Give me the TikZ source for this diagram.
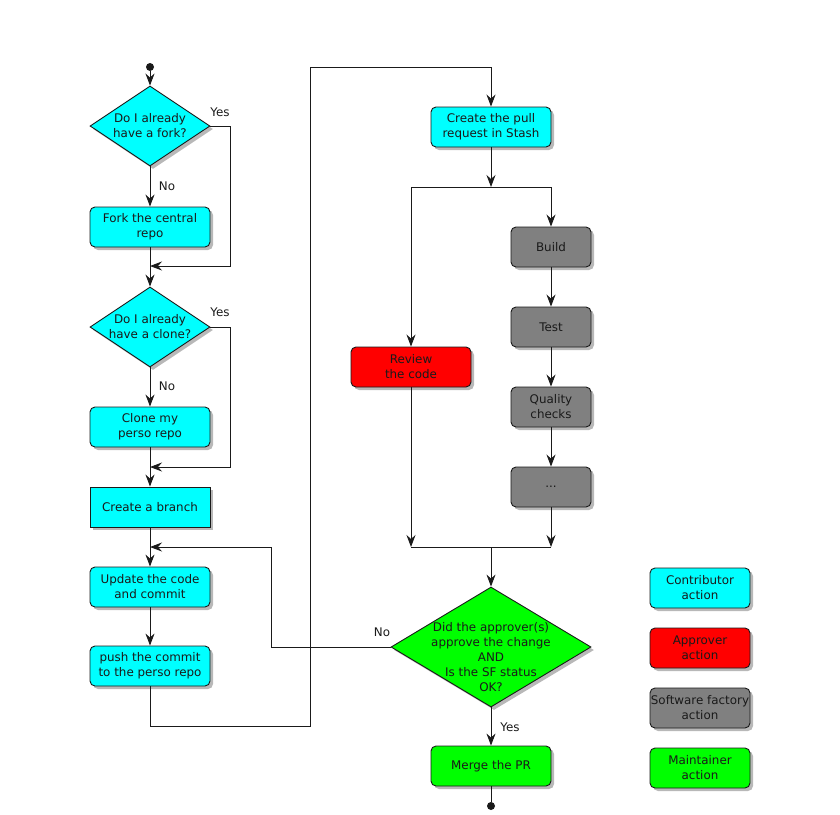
\documentclass[tikz,border=0pt]{standalone}
\usepackage{fontspec}
\setmainfont{DejaVu Sans}
\usetikzlibrary{shapes.geometric,arrows.meta,shadows}
\definecolor{ccyan}{HTML}{00FFFF}
\definecolor{cred}{HTML}{FF0000}
\definecolor{cgray}{HTML}{808080}
\definecolor{cgreen}{HTML}{00FF00}
\definecolor{ink}{HTML}{1A1A1A}
\tikzset{
  shd/.style={drop shadow={shadow xshift=3pt,shadow yshift=-3pt,opacity=0.28,fill=black}},
  line/.style={draw=ink,line width=0.9pt},
  arr/.style={line,-{Stealth[length=12pt,width=9pt,inset=4pt]}},
  box/.style={draw=ink,line width=0.9pt,rounded corners=5pt,minimum width=120pt,
    minimum height=40pt,inner sep=0pt,align=center,text=ink,shd},
  cbox/.style={box,fill=ccyan},
  rbox/.style={box,fill=cred},
  gbox/.style={box,fill=cgray,minimum width=80pt},
  lbox/.style={box,minimum width=100pt},
  dia/.style={diamond,draw=ink,line width=0.9pt,minimum width=120pt,minimum height=80pt,
    inner sep=0pt,shd},
  txt/.style={align=center,inner sep=0pt,text=ink},
  lbl/.style={inner sep=1pt,text=ink},
  dot/.style={circle,fill=ink,minimum size=8pt,inner sep=0pt},
}
\begin{document}
\begin{tikzpicture}[x=1pt,y=-1pt,font=\fontsize{11.9}{15}\selectfont]
\fill[white] (0,0) rectangle (840,814);
\useasboundingbox (0,0) rectangle (840,814);

% left column
\node[dot] (start) at (150,67) {};
\node[dia,fill=ccyan] (d1) at (150,126) {};
\node[txt] (d1t) at (d1) {Do I already\\have a fork?};
\node[cbox] (fork) at (150,227) {Fork the central\\repo};
\node[dia,fill=ccyan] (d2) at (150,327) {};
\node[txt] (d2t) at (d2) {Do I already\\have a clone?};
\node[cbox] (clone) at (150,427) {Clone my\\perso repo};
\node[cbox,rounded corners=0pt] (branch) at (150,507) {Create a branch};
\node[cbox] (update) at (150,587) {Update the code\\and commit};
\node[cbox] (push) at (150,666) {push the commit\\to the perso repo};

% right part
\node[cbox] (pr) at (491,127) {Create the pull\\request in Stash};
\node[gbox] (build) at (551,247) {Build};
\node[gbox] (test) at (551,327) {Test};
\node[gbox] (qc) at (551,407) {Quality\\checks};
\node[gbox] (more) at (551,487) {...};
\node[rbox] (review) at (411,367) {Review\\the code};
\node[dia,fill=cgreen,minimum width=200pt,minimum height=120pt] (d3) at (491,647) {};
\node[txt] (d3t) at (491,657) {Did the approver(s)\\approve the change\\AND\\Is the SF status\\OK?};
\node[box,fill=cgreen] (merge) at (491,766) {Merge the PR};
\node[dot] (end) at (491,806) {};

% legend
\node[lbox,fill=ccyan] (l1) at (700,588) {Contributor\\action};
\node[lbox,fill=cred] (l2) at (700,648) {Approver\\action};
\node[lbox,fill=cgray] (l3) at (700,708) {Software factory\\action};
\node[lbox,fill=cgreen] (l4) at (700,768) {Maintainer\\action};

% labels
\node[lbl] (yes1) at (220,112) {Yes};
\node[lbl] (no1) at (167,186) {No};
\node[lbl] (yes2) at (220,312) {Yes};
\node[lbl] (no2) at (167,386) {No};
\node[lbl] (no3) at (382,632) {No};
\node[lbl] (yes3) at (510,727) {Yes};

% helper coordinates
\coordinate (y1c) at (230,266);
\coordinate (j1) at (150,266);
\coordinate (y2c) at (230,467);
\coordinate (j2) at (150,467);
\coordinate (c1) at (310,726);
\coordinate (c2) at (310,67);
\coordinate (split) at (491,187);
\coordinate (ml) at (411,547);
\coordinate (mr) at (551,547);
\coordinate (mj) at (491,547);
\coordinate (n1) at (271,547);
\coordinate (j3) at (150,547);

% connectors
\draw[arr] (start) -- (d1.north);
\draw[arr] (d1.south) -- (fork.north);
\draw[arr] (d1.east) -| (y1c) -- (j1);
\draw[arr] (fork.south) -- (d2.north);
\draw[arr] (d2.south) -- (clone.north);
\draw[arr] (d2.east) -| (y2c) -- (j2);
\draw[arr] (clone.south) -- (branch.north);
\draw[arr] (branch.south) -- (update.north);
\draw[arr] (update.south) -- (push.north);
\draw[arr] (push.south) |- (c1) -- (c2) -| (pr.north);
\draw[arr] (pr.south) -- (split);
\draw[arr] (split) -| (build.north);
\draw[arr] (split) -| (review.north);
\draw[arr] (build.south) -- (test.north);
\draw[arr] (test.south) -- (qc.north);
\draw[arr] (qc.south) -- (more.north);
\draw[arr] (review.south) -- (ml);
\draw[arr] (more.south) -- (mr);
\draw[line] (ml) -- (mr);
\draw[arr] (mj) -- (d3.north);
\draw[arr] (d3.west) -| (n1) -- (j3);
\draw[arr] (d3.south) -- (merge.north);
\draw[line] (merge.south) -- (end);
\end{tikzpicture}
\end{document}
